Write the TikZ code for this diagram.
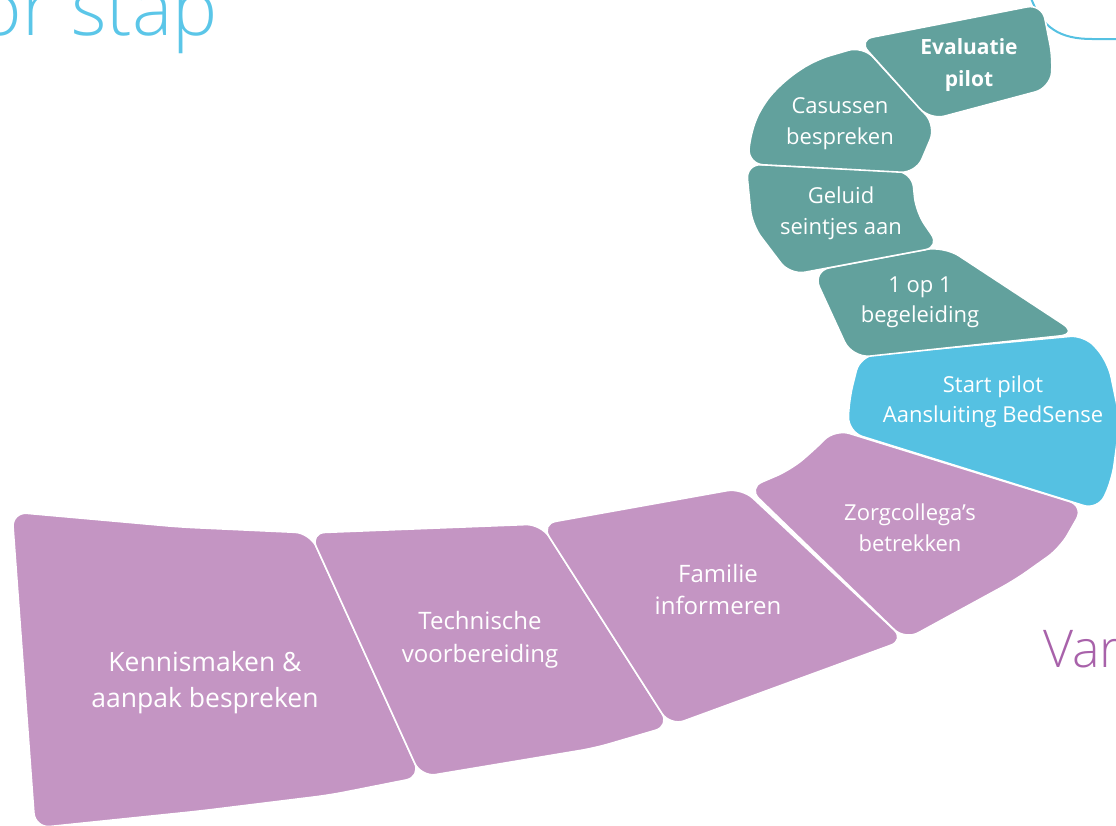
\documentclass[tikz,border=0pt]{standalone}
\usepackage{fontspec}
\setmainfont{Open Sans}
\newfontfamily\lightfont{Open Sans Light}
\definecolor{pur}{HTML}{C495C3}
\definecolor{teal}{HTML}{62A19D}
\definecolor{sky}{HTML}{55C1E2}
\definecolor{titleblue}{HTML}{5BC6E8}
\definecolor{darkpur}{HTML}{A862AA}
\tikzset{
  stepshape/.style={draw=white, line width=1.6pt, rounded corners=15pt},
  steptext/.style={text=white, align=center, inner sep=0pt},
}
\begin{document}
\begin{tikzpicture}[x=1pt,y=-1pt]
\useasboundingbox (0,0) rectangle (1116,825);
% Title fragments
\node[anchor=base east, text=titleblue, inner sep=0pt, font=\lightfont\fontsize{76}{80}\selectfont] (title) at (218,35) {or stap};
\node[anchor=base west, text=darkpur, inner sep=0pt, font=\lightfont\fontsize{52}{56}\selectfont] (var) at (1043,667) {Var};
% top right outline
\draw[sky, line width=2pt] (1031,-2) .. controls (1042,28) and (1060,39) .. (1092,39) -- (1120,39);
% purple steps
\filldraw[stepshape, fill=pur] (12,512) -- (180,527) -- (310,533) -- (421,777) -- (330,795) -- (200,811) -- (35,828) -- cycle;
\filldraw[stepshape, fill=pur] (310,533) -- (541,524) -- (670,726) -- (595,748) -- (421,777) -- cycle;
\filldraw[stepshape, fill=pur] (541,524) -- (742,488) -- (905,640) -- (670,726) -- cycle;
\filldraw[stepshape, fill=pur] (748,488) -- (790,470) -- (812,452) -- (835,429) -- (1084,506) -- (1060,548) -- (1015,580) -- (960,610) -- (905,640) -- cycle;
% blue
\filldraw[stepshape, fill=sky] (848,432) -- (849,400) -- (860,356) -- (1085,335) -- (1108,362) -- (1120,420) -- (1112,480) -- (1098,510) -- cycle;
% teal steps
\filldraw[stepshape, rounded corners=18pt, fill=teal] (812,271) -- (944,246) -- (1078,334) -- (852,358) -- cycle;
\filldraw[stepshape, fill=teal] (746,164) -- (912,172) -- (916,212) -- (940,247) -- (790,275) -- (752,225) -- cycle;
\filldraw[stepshape, fill=teal] (748,164) -- (750,135) -- (762,105) -- (785,80) -- (815,60) -- (863,46) -- (936,126) -- (916,173) -- cycle;
\filldraw[stepshape, fill=teal] (858,40) -- (1042,4) -- (1053,60) -- (1050,88) -- (930,120) -- cycle;
% labels
\node[steptext, font=\fontsize{26.5}{36}\selectfont] (k) at (205,683) {Kennismaken \&\\aanpak bespreken};
\node[steptext, font=\fontsize{24}{33}\selectfont] (t) at (480,640) {Technische\\voorbereiding};
\node[steptext, font=\fontsize{24}{32}\selectfont] (f) at (718,589) {Familie\\informeren};
\node[steptext, font=\fontsize{22}{31}\selectfont] (z) at (910,528) {Zorgcollega’s\\betrekken};
\node[steptext, font=\fontsize{22}{30}\selectfont] (s) at (993,402) {Start pilot\\Aansluiting BedSense};
\node[steptext, font=\fontsize{22}{30}\selectfont] (o) at (920,302) {1 op 1\\begeleiding};
\node[steptext, font=\fontsize{22}{31}\selectfont] (g) at (841,213) {Geluid\\seintjes aan};
\node[steptext, font=\fontsize{22}{31}\selectfont] (c) at (840,124) {Casussen\\bespreken};
\node[steptext, font=\bfseries\fontsize{21}{32}\selectfont] (e) at (969,65) {Evaluatie\\pilot};
\end{tikzpicture}
\end{document}
